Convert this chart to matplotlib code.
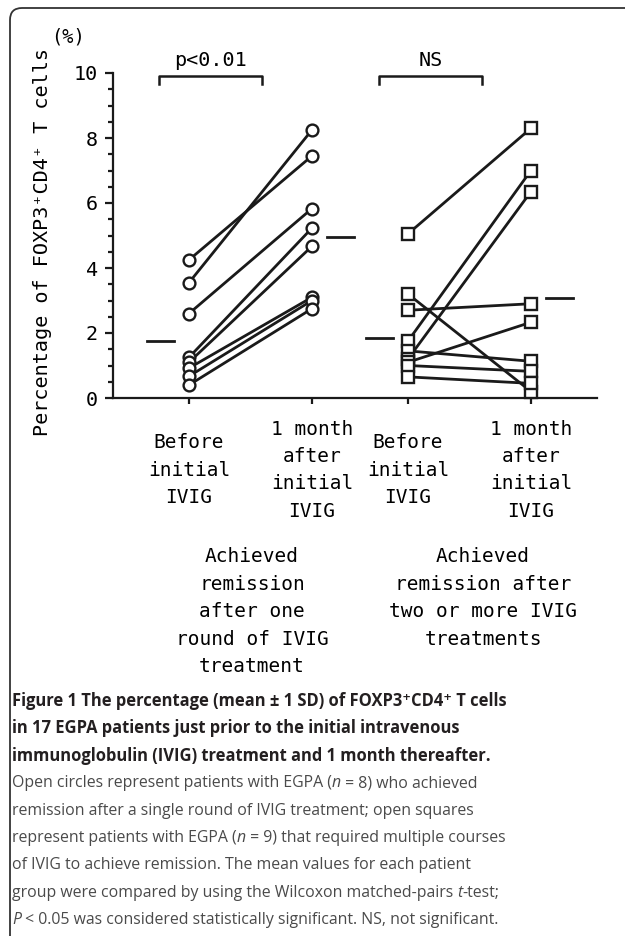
import matplotlib
matplotlib.use("Agg")
import matplotlib.pyplot as plt
from matplotlib.patches import FancyBboxPatch
from matplotlib.transforms import IdentityTransform
import numpy as np

# ---------------- data ----------------
tick_labels = ["Before\ninitial\nIVIG", "1 month\nafter\ninitial\nIVIG",
               "Before\ninitial\nIVIG", "1 month\nafter\ninitial\nIVIG"]
group_labels = ["Achieved\nremission\nafter one\nround of IVIG\ntreatment",
                "Achieved\nremission after\ntwo or more IVIG\ntreatments"]
sig_labels = ["p<0.01", "NS"]

circ_before = [4.25, 3.55, 2.60, 1.25, 1.10, 0.92, 0.67, 0.40]
circ_after = [7.45, 8.25, 5.83, 5.23, 4.67, 3.10, 3.00, 2.75]
sq_before = [5.05, 3.20, 2.70, 1.75, 1.45, 1.20, 1.10, 1.00, 0.65]
sq_after = [8.30, 0.20, 2.90, 7.00, 1.13, 6.35, 2.33, 0.82, 0.45]
mean_before = [1.75, 1.85]
mean_after = [4.95, 3.08]

yticks = [0, 2, 4, 6, 8, 10]

# ---------------- layout ----------------
W, H = 625, 936
fig = plt.figure(figsize=(W / 100, H / 100), dpi=100)

def fx(px):
    return px / W

def fy(py):
    return 1 - py / H

mono = ["DejaVu Sans Mono", "DejaVu Sans"]
cap = ["Open Sans", "DejaVu Sans"]

ax_l, ax_r, ax_b, ax_t = 113, 597, 398, 73
ax = fig.add_axes([fx(ax_l), fy(ax_b), (ax_r - ax_l) / W, (ax_b - ax_t) / H])

xpos = [1.0, 2.0, 2.78, 3.78]
ax.set_xlim(0.382, 4.317)
ax.set_ylim(0, 10)

for sp in ["top", "right"]:
    ax.spines[sp].set_visible(False)
for sp in ["left", "bottom"]:
    ax.spines[sp].set_linewidth(1.6)
    ax.spines[sp].set_color("#1a1a1a")

lw = 2.0
# lines
for b, a in zip(circ_before, circ_after):
    ax.plot([xpos[0], xpos[1]], [b, a], color="#1a1a1a", lw=lw, zorder=2,
            solid_capstyle="round")
for b, a in zip(sq_before, sq_after):
    ax.plot([xpos[2], xpos[3]], [b, a], color="#1a1a1a", lw=lw, zorder=2,
            solid_capstyle="round")
# markers
ax.plot([xpos[0]] * len(circ_before), circ_before, "o", ms=8.5, mfc="white",
        mec="#1a1a1a", mew=1.7, ls="none", zorder=3, clip_on=False)
ax.plot([xpos[1]] * len(circ_after), circ_after, "o", ms=8.5, mfc="white",
        mec="#1a1a1a", mew=1.7, ls="none", zorder=3, clip_on=False)
ax.plot([xpos[2]] * len(sq_before), sq_before, "s", ms=8.5, mfc="white",
        mec="#1a1a1a", mew=1.7, ls="none", zorder=3, clip_on=False)
ax.plot([xpos[3]] * len(sq_after), sq_after, "s", ms=8.5, mfc="white",
        mec="#1a1a1a", mew=1.7, ls="none", zorder=3, clip_on=False)

# mean dashes
off, hw = 0.235, 0.11
for g in range(2):
    xb = xpos[2 * g] - off
    xa = xpos[2 * g + 1] + off
    ax.plot([xb - hw, xb + hw], [mean_before[g]] * 2, color="#1a1a1a", lw=lw)
    ax.plot([xa - hw, xa + hw], [mean_after[g]] * 2, color="#1a1a1a", lw=lw)

# y ticks
ax.set_yticks(yticks)
ax.set_yticks(np.arange(0, 10.01, 0.5), minor=True)
ax.set_yticklabels([str(t) for t in yticks], fontfamily=mono, fontsize=14.5)
ax.tick_params(axis="y", which="major", length=6, width=1.6, pad=5,
               color="#1a1a1a")
ax.tick_params(axis="y", which="minor", length=3.8, width=1.6, color="#1a1a1a")

# x ticks
ax.set_xticks(xpos)
ax.set_xticklabels(tick_labels, fontfamily=mono, fontsize=14,
                   linespacing=1.55)
for lab in ax.get_xticklabels():
    lab.set_verticalalignment("center")
ax.tick_params(axis="x", length=4, width=1.6, pad=48, color="#1a1a1a")

# significance brackets
for g in range(2):
    x0 = [0.755, 2.545][g]
    x1 = [1.59, 3.38][g]
    ax.plot([x0, x0, x1, x1], [9.65, 9.9, 9.9, 9.65], color="#1a1a1a",
            lw=1.8, clip_on=False)
    ax.text((x0 + x1) / 2, 10.38, sig_labels[g], ha="center", va="center",
            fontfamily=mono, fontsize=14.5, clip_on=False)

# axis annotations
fig.text(fx(68), fy(37), "(%)", ha="center", va="center", fontfamily=mono,
         fontsize=13.5)
fig.text(fx(43), fy(242), "Percentage of FOXP3\u207aCD4\u207a T cells",
         rotation=90, ha="center", va="center", fontfamily=mono, fontsize=14.5)

# group labels
for g, xc in enumerate([252, 483]):
    fig.text(fx(xc), fy(547), group_labels[g], ha="center", va="top",
             fontfamily=mono, fontsize=14, linespacing=1.57)

# ---------------- caption ----------------
renderer = fig.canvas.get_renderer()
bold_col = "#231f20"
reg_col = "#4a4a4a"
caption = [
    [("Figure 1 The percentage (mean \u00b1 1 SD) of FOXP3\u207aCD4\u207a T cells", "b")],
    [("in 17 EGPA patients just prior to the initial intravenous", "b")],
    [("immunoglobulin (IVIG) treatment and 1 month thereafter.", "b")],
    [("Open circles represent patients with EGPA (", "r"), ("n", "i"),
     (" = 8) who achieved", "r")],
    [("remission after a single round of IVIG treatment; open squares", "r")],
    [("represent patients with EGPA (", "r"), ("n", "i"),
     (" = 9) that required multiple courses", "r")],
    [("of IVIG to achieve remission. The mean values for each patient", "r")],
    [("group were compared by using the Wilcoxon matched-pairs ", "r"),
     ("t", "i"), ("-test;", "r")],
    [("P", "i"), (" < 0.05 was considered statistically significant. NS, not significant.", "r")],
]
y0, dy = 701, 27.4
for i, segs in enumerate(caption):
    xcur = 12
    ypix = H - (y0 + i * dy)
    for txt, st in segs:
        kw = dict(fontfamily=cap, fontsize=11.4, va="center", ha="left",
                  transform=IdentityTransform())
        if st == "b":
            kw.update(fontweight="bold", color=bold_col, fontsize=11.9)
        elif st == "i":
            kw.update(fontstyle="italic", color=reg_col)
        else:
            kw.update(color=reg_col)
        t = fig.text(xcur, ypix, txt, **kw)
        bb = t.get_window_extent(renderer=renderer)
        xcur = bb.x1

# border
box = FancyBboxPatch((10, -60), 800, H - 8 + 60, boxstyle="round,pad=0,rounding_size=12",
                     transform=IdentityTransform(), fill=False, ec="#333333",
                     lw=1.3)
fig.patches.append(box)

fig.savefig("out.png", dpi=100)
